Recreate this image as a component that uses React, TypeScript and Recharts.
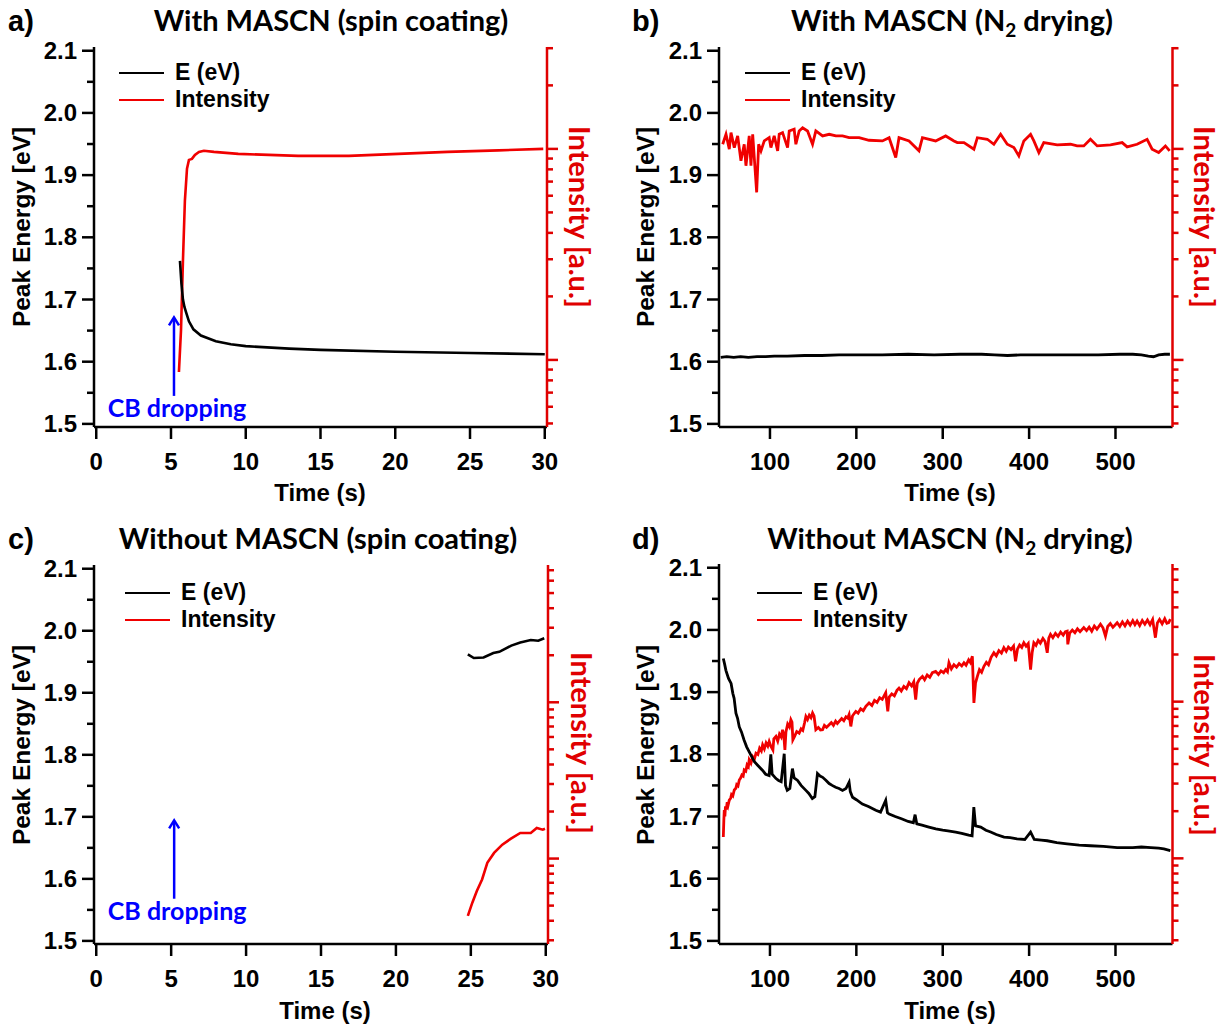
import React from "react";
import { LineChart, Line, XAxis, YAxis, Legend, ReferenceLine } from "recharts";

// ---------- a) with MASCN, spin coating ----------
const aEnergyTime = [5.6, 5.7, 5.8, 5.9, 6.0, 6.2, 6.5, 7, 8, 9, 10, 12.9, 15, 20, 25, 30];
const aEnergy = [1.762, 1.725, 1.7, 1.688, 1.68, 1.665, 1.652, 1.642, 1.633, 1.628, 1.625, 1.621, 1.619, 1.616, 1.614, 1.612];
const aIntTime = [5.53, 5.67, 5.8, 5.93, 6.07, 6.2, 6.4, 6.6, 6.87, 7.2, 7.87, 9.5, 13.5, 16.9, 20.2, 23.5, 26.9, 29.9];
const aInt = [0.877, 1.385, 2.96, 5.69, 8.05, 8.87, 8.97, 9.37, 9.68, 9.8, 9.68, 9.47, 9.27, 9.27, 9.47, 9.68, 9.84, 10.0];

// ---------- b) with MASCN, N2 drying ----------
const bEnergyTime = [43, 50, 58, 66, 75, 85, 95, 105, 120, 140, 160, 180, 200, 230, 260, 290, 320, 345, 360, 375, 390, 420, 450, 480, 505, 520, 530, 538, 544, 550, 557, 563];
const bEnergy = [1.607, 1.608, 1.607, 1.608, 1.607, 1.608, 1.608, 1.609, 1.609, 1.61, 1.61, 1.611, 1.611, 1.611, 1.612, 1.611, 1.612, 1.612, 1.611, 1.61, 1.611, 1.611, 1.611, 1.611, 1.612, 1.612, 1.611, 1.609, 1.608, 1.611, 1.612, 1.612];
const bIntTime = [45.3, 49.1, 52.9, 54.9, 58.7, 62.6, 66.4, 70.2, 72.2, 76.0, 78.0, 80.0, 84.6, 86.9, 89.6, 93.4, 99.1, 101.1, 104.9, 108.9, 110.7, 114.6, 120.4, 122.3, 128.0, 130.0, 133.8, 137.8, 143.5, 149.3, 153.1, 160.9, 168.5, 176.3, 184.0, 191.6, 203.2, 214.7, 230.2, 237.9, 245.6, 249.4, 261.0, 272.5, 276.5, 291.8, 303.4, 313.0, 316.9, 324.6, 336.1, 340.1, 351.6, 359.2, 367.0, 374.7, 382.4, 388.1, 393.9, 401.7, 405.5, 411.3, 417.0, 432.5, 447.9, 455.6, 463.3, 471.0, 478.8, 494.2, 507.7, 513.5, 525.0, 536.6, 542.4, 550.0, 557.8, 562.7];
const bInt = [10.52, 11.73, 9.97, 11.94, 10.14, 11.52, 8.78, 10.52, 8.32, 11.52, 8.32, 11.73, 6.22, 10.52, 9.79, 10.91, 11.3, 10.14, 11.52, 9.79, 11.73, 11.94, 10.14, 12.16, 12.39, 10.52, 12.16, 12.6, 12.16, 10.52, 12.16, 11.52, 11.73, 11.52, 11.52, 11.3, 11.3, 10.99, 10.91, 11.3, 9.1, 11.3, 10.91, 9.79, 11.3, 10.91, 11.52, 10.91, 10.71, 10.71, 9.97, 11.3, 11.11, 10.52, 11.73, 10.52, 10.14, 9.27, 10.91, 11.73, 10.91, 9.61, 10.71, 10.45, 10.52, 10.33, 10.33, 11.11, 10.33, 10.45, 10.71, 10.22, 10.52, 11.11, 9.97, 9.61, 10.33, 9.79];

// ---------- c) without MASCN, spin coating ----------
const cEnergyTime = [24.8, 25.2, 25.85, 26.5, 26.9, 27.7, 28.3, 29.0, 29.5, 29.9];
const cEnergy = [1.962, 1.956, 1.957, 1.964, 1.966, 1.976, 1.981, 1.985, 1.984, 1.988];
const cIntTime = [24.8, 25.1, 25.4, 25.75, 26.1, 26.55, 27.1, 27.65, 28.3, 29.0, 29.4, 29.8, 29.95];
const cInt = [0.43, 0.522, 0.62, 0.735, 0.94, 1.087, 1.228, 1.335, 1.458, 1.458, 1.568, 1.53, 1.55];

// ---------- d) without MASCN, N2 drying ----------
const dEnergyTime = [46.0, 47.5, 49, 52, 55, 57, 58.5, 60.6, 62.5, 64.5, 67, 70, 73, 76, 79, 82, 86, 91.5, 95, 99, 101, 102.5, 107, 110, 113, 116.5, 118, 120, 123, 126, 128, 132, 136, 141.6, 145, 149, 152, 155, 158, 161, 165, 168.5, 172, 176, 180, 184, 188, 191.6, 193, 195.6, 200, 207, 214, 222.5, 228, 234, 236, 238, 245, 253, 260, 266, 268, 270, 276, 284, 292, 300, 306, 315, 322, 330, 334, 336, 338, 344, 350, 355.5, 362, 371, 378, 386, 395, 401.7, 406, 414, 421, 432, 444, 458, 471, 486, 502, 520, 530, 541, 550, 556, 563.5];
const dEnergy = [1.954, 1.945, 1.935, 1.922, 1.914, 1.898, 1.89, 1.866, 1.858, 1.844, 1.836, 1.823, 1.812, 1.804, 1.796, 1.788, 1.782, 1.774, 1.768, 1.766, 1.8, 1.768, 1.761, 1.758, 1.756, 1.801, 1.75, 1.742, 1.745, 1.777, 1.762, 1.758, 1.75, 1.742, 1.737, 1.729, 1.732, 1.769, 1.765, 1.763, 1.758, 1.753, 1.75, 1.747, 1.745, 1.742, 1.745, 1.755, 1.74, 1.731, 1.727, 1.72, 1.716, 1.71, 1.707, 1.726, 1.706, 1.704, 1.7, 1.696, 1.692, 1.69, 1.703, 1.688, 1.686, 1.683, 1.68, 1.678, 1.677, 1.675, 1.673, 1.67, 1.669, 1.715, 1.685, 1.683, 1.678, 1.675, 1.671, 1.667, 1.666, 1.664, 1.663, 1.675, 1.663, 1.662, 1.661, 1.658, 1.656, 1.654, 1.653, 1.652, 1.65, 1.65, 1.651, 1.65, 1.649, 1.648, 1.645];
const dIntTime = [46.0, 46.6, 47.1, 47.8, 48.5, 49.5, 50.5, 51.5, 52.9, 54.5, 55.5, 57.0, 58.7, 60.5, 61.5, 63.0, 64.5, 66.0, 67.5, 69.0, 70.2, 72.0, 73.5, 75.0, 76.0, 78.0, 80.0, 82.0, 83.8, 86.0, 88.0, 90.0, 91.5, 93.5, 95.5, 97.5, 99.1, 101.0, 103.4, 104.5, 106.9, 109.0, 111.0, 113.0, 114.6, 116.0, 117.3, 118.5, 120.5, 122.5, 124.2, 125.5, 126.5, 128.5, 131.0, 133.8, 136.0, 138.0, 140.0, 141.6, 143.5, 145.5, 147.5, 149.3, 151.0, 153.1, 156.0, 158.5, 160.9, 163.0, 165.5, 168.5, 171.0, 173.5, 176.0, 178.0, 180.1, 183.0, 185.5, 188.0, 190.0, 191.6, 193.6, 195.5, 197.5, 199.4, 202.0, 205.0, 208.0, 211.0, 214.7, 218.0, 221.0, 224.0, 227.0, 230.0, 234.0, 236.4, 238.0, 241.0, 244.0, 247.0, 249.4, 252.0, 255.0, 258.0, 261.0, 264.0, 266.5, 268.7, 270.5, 273.0, 276.5, 279.0, 282.0, 285.0, 288.0, 291.8, 295.0, 298.0, 301.0, 303.4, 305.5, 307.2, 310.0, 313.0, 316.0, 319.0, 322.0, 324.6, 327.0, 330.0, 332.0, 334.3, 336.1, 338.0, 340.1, 342.5, 345.0, 347.7, 350.5, 353.0, 356.0, 359.2, 362.0, 365.0, 368.0, 370.8, 373.5, 376.0, 379.0, 382.0, 384.3, 386.5, 389.0, 391.5, 393.9, 396.5, 399.0, 401.7, 403.5, 405.5, 408.0, 410.5, 413.0, 416.0, 418.5, 421.0, 422.8, 424.8, 427.5, 430.5, 433.5, 436.5, 439.5, 442.0, 444.1, 444.8, 447.0, 450.0, 453.0, 456.0, 459.0, 463.3, 466.5, 469.5, 472.5, 475.5, 478.5, 482.6, 485.5, 488.4, 491.0, 494.0, 497.0, 501.9, 505.0, 508.0, 511.0, 514.0, 517.0, 520.0, 522.5, 525.0, 528.0, 531.0, 534.0, 537.0, 540.0, 543.0, 546.2, 548.5, 551.0, 554.0, 557.0, 559.5, 561.6, 563.5];
const dInt = [1.37, 1.75, 2.03, 1.85, 2.15, 2.05, 2.28, 2.18, 2.35, 2.42, 2.55, 2.5, 2.73, 2.8, 2.95, 2.9, 3.16, 3.25, 3.4, 3.35, 3.66, 3.6, 3.95, 3.85, 4.25, 4.05, 4.45, 4.3, 4.69, 4.6, 5.05, 4.85, 5.3, 5.0, 5.45, 5.2, 5.57, 5.2, 4.92, 5.8, 6.0, 5.6, 6.2, 5.95, 6.62, 6.1, 4.92, 6.4, 7.2, 6.9, 7.67, 7.4, 5.7, 6.0, 6.45, 6.3, 6.7, 6.55, 7.3, 8.05, 7.7, 8.2, 7.9, 8.47, 8.1, 6.62, 6.85, 6.6, 6.62, 7.05, 6.85, 7.12, 7.35, 7.05, 7.5, 7.25, 7.48, 7.8, 7.55, 8.0, 7.85, 8.26, 6.95, 8.1, 8.4, 8.66, 8.45, 9.0, 8.75, 9.35, 9.81, 9.45, 10.2, 9.9, 10.6, 10.35, 11.4, 8.66, 10.7, 11.2, 10.9, 11.8, 12.2, 11.7, 12.5, 12.1, 13.2, 12.6, 13.4, 10.3, 13.1, 13.9, 14.5, 13.8, 14.8, 14.3, 15.3, 15.6, 14.9, 15.7, 15.3, 16.0, 15.5, 17.7, 16.2, 17.2, 16.6, 17.5, 16.9, 17.7, 17.1, 18.5, 17.8, 19.5, 9.81, 13.2, 14.5, 16.0, 15.4, 16.8, 17.8, 17.2, 19.2, 20.5, 19.6, 21.2, 20.4, 22.1, 21.0, 22.3, 21.5, 22.6, 18.1, 21.6, 23.0, 22.2, 23.8, 22.6, 23.5, 16.0, 20.5, 23.8, 22.9, 24.6, 23.6, 25.3, 24.2, 20.5, 25.4, 26.9, 25.6, 27.3, 26.1, 27.8, 26.6, 28.0, 28.2, 23.2, 27.4, 28.6, 27.5, 29.2, 28.0, 29.7, 28.4, 29.9, 28.2, 30.4, 29.0, 31.2, 29.6, 26.2, 30.2, 31.5, 29.8, 31.9, 30.2, 32.3, 30.5, 32.6, 30.8, 32.9, 31.0, 32.7, 30.6, 33.0, 31.2, 33.2, 31.0, 33.4, 25.6, 31.8, 33.5, 31.4, 33.8, 31.6, 31.9, 33.6];

// ---------- ticks ----------
const energyTicks = [1.5, 1.55, 1.6, 1.65, 1.7, 1.75, 1.8, 1.85, 1.9, 1.95, 2.0, 2.05, 2.1];
const spinTicks = [0, 5, 10, 15, 20, 25, 30];
const dryTicks = [100, 200, 300, 400, 500];
const intTicksUpper = [0.5, 0.6, 0.7, 0.8, 0.9, 1, 2, 3, 4, 5, 6, 7, 8, 9, 10, 20, 30];
const intTicksLower = [0.3, 0.4, 0.5, 0.6, 0.7, 0.8, 0.9, 1, 2, 3, 4, 5, 6, 7, 8, 9, 10, 20, 30, 40, 50, 60, 70];

const RED = "#f00000";
const AXIS_RED = "#e00000";
const BLUE = "#0000ff";
const ARIAL = "'Liberation Sans', Arial, sans-serif";
const TITLE_FONT = "Lato, 'Open Sans', sans-serif";

const zip = (ts: number[], vs: number[]) => ts.map((t, i) => ({ t, v: vs[i] }));

const LeftTick = (props: any) => {
  const { x, y, payload } = props;
  const v = payload.value;
  const major = Math.abs(v * 10 - Math.round(v * 10)) < 0.01;
  return (
    <g>
      <line x1={x} x2={x - (major ? 12 : 7)} y1={y} y2={y} stroke="#000" strokeWidth={2.5} />
      {major && (
        <text x={x - 17} y={y + 8} textAnchor="end" fontFamily={ARIAL} fontWeight={700} fontSize={24} fill="#000">
          {v.toFixed(1)}
        </text>
      )}
    </g>
  );
};

const BottomTick = (props: any) => {
  const { x, y, payload } = props;
  return (
    <g>
      <line x1={x} x2={x} y1={y} y2={y + 12} stroke="#000" strokeWidth={2.5} />
      <text x={x} y={y + 43} textAnchor="middle" fontFamily={ARIAL} fontWeight={700} fontSize={24} fill="#000">
        {payload.value}
      </text>
    </g>
  );
};

const RightTick = (props: any) => {
  const { x, y, payload } = props;
  const v = payload.value;
  const major = v === 1 || v === 10;
  return <line x1={x} x2={x + (major ? 11 : 6)} y1={y} y2={y} stroke={AXIS_RED} strokeWidth={2.5} />;
};

const CbArrow = (props: any) => {
  const { x1, y1, y2 } = props;
  const top = Math.min(y1, y2);
  const bottom = Math.max(y1, y2);
  return (
    <g>
      <line x1={x1} x2={x1} y1={bottom} y2={top + 2} stroke={BLUE} strokeWidth={2.5} />
      <polyline points={`${x1 - 5},${top + 9} ${x1},${top + 1} ${x1 + 5},${top + 9}`} fill="none" stroke={BLUE} strokeWidth={2.5} />
      <text x={x1 + 3} y={bottom + 21} textAnchor="middle" fontFamily={TITLE_FONT} fontWeight={700} fontSize={25} fill={BLUE}>
        CB dropping
      </text>
    </g>
  );
};

const LegendBox = () => (
  <div style={{ fontFamily: ARIAL, fontWeight: 700, fontSize: 23, color: "#000", lineHeight: "27px" }}>
    {[
      { name: "E (eV)", color: "#000" },
      { name: "Intensity", color: RED },
    ].map((item) => (
      <div key={item.name} style={{ display: "flex", alignItems: "center", height: 27 }}>
        <span style={{ display: "inline-block", width: 45, borderTop: `2.5px solid ${item.color}`, marginRight: 11 }} />
        <span>{item.name}</span>
      </div>
    ))}
  </div>
);

type PanelProps = {
  left: number;
  top: number;
  margin: { top: number; right: number; bottom: number; left: number };
  xDomain: [number, number];
  xTicks: number[];
  intDomain: [number, number];
  intTicks: number[];
  energy: { t: number; v: number }[];
  intensity: { t: number; v: number }[];
  legendAt: { left: number; top: number };
  arrowAt?: number;
  letter: string;
  title: React.ReactNode;
  titleX: number;
  eLabelX: number;
  timeX: number;
  intLabel: { x: number; y: number };
  noisy?: boolean;
};

const W = 612;
const H = 509;

function Panel(p: PanelProps) {
  const lw = p.noisy ? 2.8 : 2.6;
  return (
    <div style={{ position: "absolute", left: p.left, top: p.top, width: W, height: H }}>
      <LineChart width={W} height={H} margin={p.margin}>
        <XAxis
          xAxisId={0}
          type="number"
          dataKey="t"
          domain={p.xDomain}
          allowDataOverflow
          ticks={p.xTicks}
          interval={0}
          height={40}
          tickLine={false}
          tickSize={0}
          tickMargin={0}
          tick={<BottomTick />}
          axisLine={{ stroke: "#000", strokeWidth: 2.5 }}
        />
        <XAxis
          xAxisId="top"
          orientation="top"
          type="number"
          dataKey="t"
          domain={p.xDomain}
          allowDataOverflow
          height={0}
          tick={false}
          tickLine={false}
          axisLine={{ stroke: "#000", strokeWidth: 2.5 }}
        />
        <YAxis
          yAxisId="e"
          type="number"
          domain={[1.495, 2.106]}
          allowDataOverflow
          ticks={energyTicks}
          interval={0}
          width={60}
          tickLine={false}
          tickSize={0}
          tickMargin={0}
          tick={<LeftTick />}
          axisLine={{ stroke: "#000", strokeWidth: 2.5 }}
        />
        <YAxis
          yAxisId="i"
          orientation="right"
          type="number"
          scale="log"
          domain={p.intDomain}
          allowDataOverflow
          ticks={p.intTicks}
          interval={0}
          width={50}
          tickLine={false}
          tickSize={0}
          tickMargin={0}
          tick={<RightTick />}
          axisLine={{ stroke: AXIS_RED, strokeWidth: 2.5 }}
        />
        <Legend
          layout="vertical"
          align="center"
          verticalAlign="middle"
          content={() => <LegendBox />}
          wrapperStyle={{ left: p.legendAt.left, top: p.legendAt.top, width: 220, height: 56 }}
        />
        <Line yAxisId="i" data={p.intensity} dataKey="v" stroke={RED} strokeWidth={lw} dot={false} isAnimationActive={false} />
        <Line yAxisId="e" data={p.energy} dataKey="v" stroke="#000" strokeWidth={lw} dot={false} isAnimationActive={false} />
        {p.arrowAt !== undefined && (
          <ReferenceLine
            yAxisId="e"
            segment={[
              { x: 5.2, y: p.arrowAt },
              { x: 5.2, y: p.arrowAt + 0.128 },
            ]}
            shape={(props: any) => <CbArrow {...props} />}
          />
        )}
      </LineChart>
      <svg width={W} height={H} style={{ position: "absolute", left: 0, top: 0, pointerEvents: "none" }}>
        <text x={p.letter === "a)" || p.letter === "c)" ? 8 : 20} y={31} fontFamily={ARIAL} fontWeight={700} fontSize={29} fill="#000">
          {p.letter}
        </text>
        <text x={p.titleX} y={31} textAnchor="middle" fontFamily={TITLE_FONT} fontWeight={700} fontSize={29} fill="#000">
          {p.title}
        </text>
        <text
          x={p.eLabelX}
          y={227}
          transform={`rotate(-90, ${p.eLabelX}, 227)`}
          textAnchor="middle"
          dominantBaseline="central"
          fontFamily={ARIAL}
          fontWeight={700}
          fontSize={24.5}
          fill="#000"
        >
          Peak Energy [eV]
        </text>
        <text x={p.timeX} y={501} textAnchor="middle" fontFamily={ARIAL} fontWeight={700} fontSize={24} fill="#000">
          Time (s)
        </text>
        <text
          x={p.intLabel.x}
          y={p.intLabel.y}
          transform={`rotate(90, ${p.intLabel.x}, ${p.intLabel.y})`}
          textAnchor="middle"
          dominantBaseline="central"
          fontFamily={TITLE_FONT}
          fontWeight={700}
          fontSize={29}
          fill={AXIS_RED}
        >
          Intensity [a.u.]
        </text>
      </svg>
    </div>
  );
}

const n2 = (prefix: string) => (
  <>
    {prefix} (N
    <tspan fontSize={19} dy={6}>
      2
    </tspan>
    <tspan dy={-6}> drying)</tspan>
  </>
);

export default function App() {
  return (
    <div style={{ position: "absolute", left: 0, top: 0, width: 1225, height: 1027, background: "#fff" }}>
      <Panel
        left={0}
        top={0}
        margin={{ top: 47, right: 15, bottom: 42, left: 34 }}
        xDomain={[-0.15, 30.15]}
        xTicks={spinTicks}
        intDomain={[0.481, 30.4]}
        intTicks={intTicksUpper}
        energy={zip(aEnergyTime, aEnergy)}
        intensity={zip(aIntTime, aInt)}
        legendAt={{ left: 119, top: 59 }}
        arrowAt={1.545}
        letter="a)"
        title="With MASCN (spin coating)"
        titleX={331}
        eLabelX={21}
        timeX={320}
        intLabel={{ x: 580, y: 217 }}
      />
      <Panel
        left={612}
        top={0}
        margin={{ top: 47, right: 1.5, bottom: 42, left: 47 }}
        xDomain={[41, 566]}
        xTicks={dryTicks}
        intDomain={[0.481, 30.4]}
        intTicks={intTicksUpper}
        energy={zip(bEnergyTime, bEnergy)}
        intensity={zip(bIntTime, bInt)}
        legendAt={{ left: 133, top: 59 }}
        letter="b)"
        title={n2("With MASCN")}
        titleX={340}
        eLabelX={33}
        timeX={338}
        intLabel={{ x: 593, y: 217 }}
        noisy
      />
      <Panel
        left={0}
        top={518}
        margin={{ top: 47, right: 14, bottom: 43, left: 34 }}
        xDomain={[-0.15, 30.15]}
        xTicks={spinTicks}
        intDomain={[0.284, 75.6]}
        intTicks={intTicksLower}
        energy={zip(cEnergyTime, cEnergy)}
        intensity={zip(cIntTime, cInt)}
        legendAt={{ left: 125, top: 61 }}
        arrowAt={1.568}
        letter="c)"
        title="Without MASCN (spin coating)"
        titleX={318}
        eLabelX={21}
        timeX={325}
        intLabel={{ x: 582, y: 225 }}
      />
      <Panel
        left={612}
        top={518}
        margin={{ top: 46, right: 1.5, bottom: 43, left: 47 }}
        xDomain={[41, 566]}
        xTicks={dryTicks}
        intDomain={[0.284, 75.6]}
        intTicks={intTicksLower}
        energy={zip(dEnergyTime, dEnergy)}
        intensity={zip(dIntTime, dInt)}
        legendAt={{ left: 145, top: 61 }}
        letter="d)"
        title={n2("Without MASCN")}
        titleX={338}
        eLabelX={33}
        timeX={338}
        intLabel={{ x: 593, y: 227 }}
        noisy
      />
    </div>
  );
}
